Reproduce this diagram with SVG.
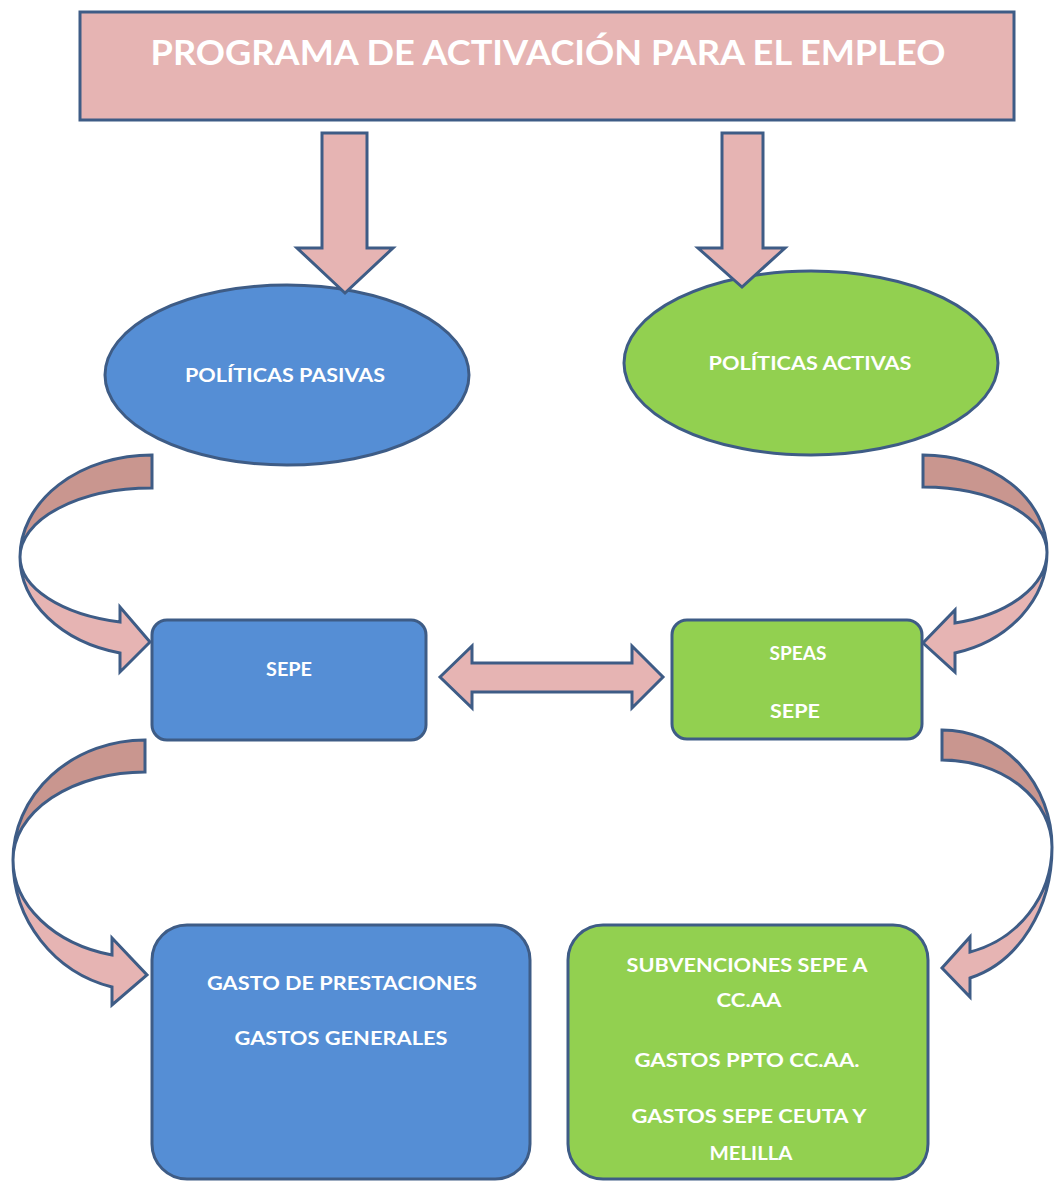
<svg xmlns="http://www.w3.org/2000/svg" width="1054" height="1181" viewBox="0 0 1054 1181">
<style>
.st{stroke:#3E5C86;stroke-width:3;stroke-linejoin:miter}
.pink{fill:#E6B4B3}
.dark{fill:#C9968F}
.blue{fill:#558ED5}
.green{fill:#92D050}
.t{font-family:Lato,"Liberation Sans",sans-serif;font-weight:bold;fill:#FFFFFF;font-size:18px;text-anchor:middle}
.title{font-size:35px}
</style>
<rect width="1054" height="1181" fill="#FFFFFF"/>
<g id="title">
<rect class="st pink" x="80" y="12" width="934" height="108"/>
<text class="t title" x="548" y="65" textLength="795" lengthAdjust="spacingAndGlyphs">PROGRAMA DE ACTIVACIÓN PARA EL EMPLEO</text>
</g>
<g id="pasivas">
<ellipse class="st blue" cx="287" cy="375" rx="182" ry="90"/>
<text class="t" x="285" y="382" textLength="200" lengthAdjust="spacingAndGlyphs">POLÍTICAS PASIVAS</text>
</g>
<g id="activas">
<ellipse class="st green" cx="811" cy="363" rx="187" ry="92"/>
<text class="t" x="810" y="370" textLength="203" lengthAdjust="spacingAndGlyphs">POLÍTICAS ACTIVAS</text>
</g>
<g id="sepe">
<rect class="st blue" x="152" y="620" width="274" height="120" rx="15"/>
<text class="t" x="289" y="676" textLength="46" lengthAdjust="spacingAndGlyphs">SEPE</text>
</g>
<g id="speas">
<rect class="st green" x="672" y="620" width="250" height="119" rx="15"/>
<text class="t" x="798" y="660" textLength="57" lengthAdjust="spacingAndGlyphs">SPEAS</text>
<text class="t" x="795" y="718" textLength="50" lengthAdjust="spacingAndGlyphs">SEPE</text>
</g>
<g id="gastos-pasivas">
<rect class="st blue" x="152" y="925" width="378" height="254" rx="35"/>
<text class="t" x="342" y="990" textLength="270" lengthAdjust="spacingAndGlyphs">GASTO DE PRESTACIONES</text>
<text class="t" x="341" y="1045" textLength="213" lengthAdjust="spacingAndGlyphs">GASTOS GENERALES</text>
</g>
<g id="gastos-activas">
<rect class="st green" x="568" y="925" width="360" height="254" rx="35"/>
<text class="t" x="747" y="972" textLength="241" lengthAdjust="spacingAndGlyphs">SUBVENCIONES SEPE A</text>
<text class="t" x="749" y="1007" textLength="65" lengthAdjust="spacingAndGlyphs">CC.AA</text>
<text class="t" x="747" y="1067" textLength="225" lengthAdjust="spacingAndGlyphs">GASTOS PPTO CC.AA.</text>
<text class="t" x="749" y="1123" textLength="235" lengthAdjust="spacingAndGlyphs">GASTOS SEPE CEUTA Y</text>
<text class="t" x="751" y="1160" textLength="83" lengthAdjust="spacingAndGlyphs">MELILLA</text>
</g>
<g id="connectors">
<path class="st pink" d="M322,133 H367 V248 H393 L345,293 L297,248 H322 Z"/>
<path class="st pink" d="M722,133 H763 V248 H785 L742,287 L698,248 H722 Z"/>
<path class="st pink" d="M440,677 L472,646 V663 H632 V646 L663,677 L632,708 V692 H472 V708 Z"/>
<path class="st dark" d="M152,455 A132,102 0 0 0 20,557 A132,69 0 0 1 152,488 Z"/>
<path class="st pink" d="M20,557 A132,99 0 0 0 120,653 V672 L150,642 L120,607 V622 A132,67 0 0 1 20,557 Z"/>
<path class="st dark" d="M923,455 A124,97 0 0 1 1047,552 A124,65 0 0 0 923,487 Z"/>
<path class="st pink" d="M1047,552 A124,104 0 0 1 955,653 V672 L923,643 L955,610 V623 A124,73 0 0 0 1047,552 Z"/>
<path class="st dark" d="M145,740 A132,120 0 0 0 13,860 A132,88 0 0 1 145,772 Z"/>
<path class="st pink" d="M13,860 A132,131 0 0 0 112,987 V1005 L147,975 L112,938 V955 A132,98 0 0 1 13,860 Z"/>
<path class="st dark" d="M942,730 A110,117 0 0 1 1052,847 A110,87 0 0 0 942,760 Z"/>
<path class="st pink" d="M1052,847 A110,135 0 0 1 970,978 V997 L942,968 L970,937 V952 A110,109 0 0 0 1052,847 Z"/>
</g>
</svg>
